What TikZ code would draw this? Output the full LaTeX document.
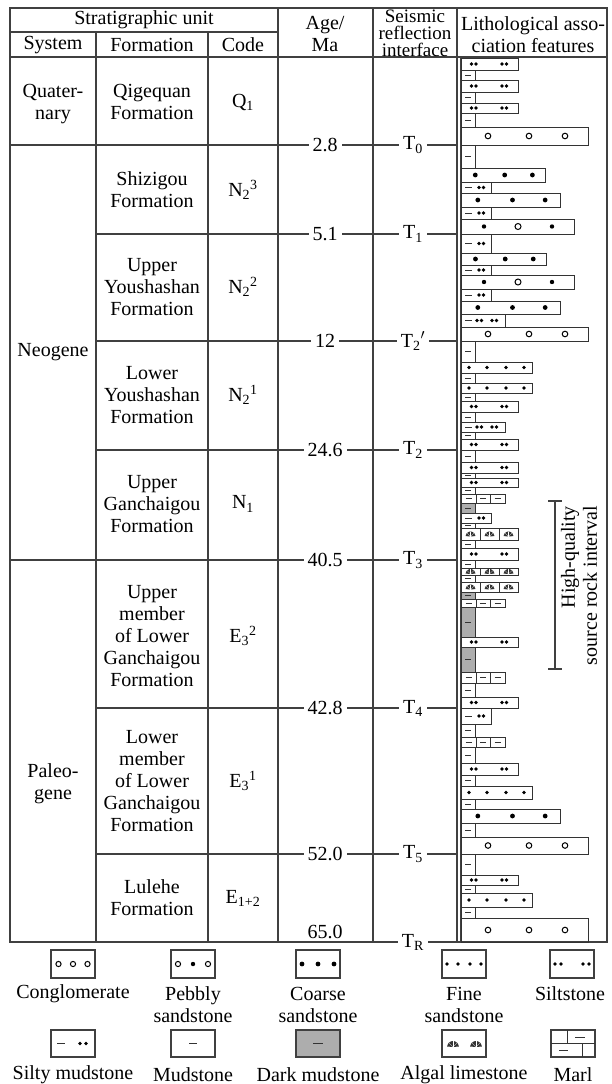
\documentclass[tikz,border=0pt]{standalone}
\usepackage{fontspec}
\setmainfont{Liberation Serif}
\begin{document}
\begin{tikzpicture}[x=1pt,y=-1pt,
    rule/.style={line width=1.2pt,draw=black!75},
    bar/.style={line width=1pt,draw=black!80},
    txt/.style={font=\fontsize{20}{22}\selectfont,align=center,inner sep=0pt},
    tick/.style={txt,fill=white,inner xsep=4pt,inner ysep=1pt},
    peb/.style={draw=black,line width=1pt,fill=white},
    darkmud/.style={bar,fill=black!32},
    algal/.pic={\fill[black!80] (0,0) -- (175:5pt) -- (140:5pt) -- (110:5pt) -- (90:5pt)
            -- (70:5pt) -- (40:5pt) -- (5:5pt) -- cycle;
        \foreach \a in {45,90,135} \draw[white,line width=0.3pt] (0,0) -- (\a:5pt);}]

\fill[white] (0,0) rectangle (611,1084);
\useasboundingbox (0,0) rectangle (611,1084);

% ===== Frame of the table =====
\draw[rule] (10,8) rectangle (607,942);
\draw[rule] (10,32) -- (278,32);
\draw[rule] (10,57) -- (607,57);
\foreach \x in {278,373,457} \draw[rule] (\x,8) -- (\x,942);
\foreach \x in {96,208} \draw[rule] (\x,32) -- (\x,942);
\draw[rule] (461,57) -- (461,942);

% ===== Boundaries =====
\foreach \y/\xs in {145/10,234/96,341/96,450/96,560/10,708/96,854/96}
    \draw[rule] (\xs,\y) -- (457,\y);

% ===== Header =====
\node[txt] (hStrat) at (144,20) {Stratigraphic unit};
\node[txt] (hSystem) at (53,45) {System};
\node[txt] (hForm) at (152,45) {Formation};
\node[txt] (hCode) at (243,45) {Code};
\node[txt] (hAge) at (325,34) {Age/\\Ma};
\node[txt,font=\fontsize{19}{17}\selectfont] (hSeis) at (415,33) {Seismic\\reflection\\interface};
\node[txt] (hLith) at (533,35) {Lithological asso-\\ciation features};

% ===== Systems =====
\node[txt] (sysQ) at (53,104) {Quater-\\nary};
\node[txt] (sysN) at (53,352) {Neogene};
\node[txt] (sysE) at (53,784) {Paleo-\\gene};

% ===== Formations and codes =====
\foreach \y/\f/\c [count=\i] in {
    102/{Qigequan\\Formation}/{Q\textsubscript{1}},
    190/{Shizigou\\Formation}/{N\textsubscript{2}\textsuperscript{3}},
    287/{Upper\\Youshashan\\Formation}/{N\textsubscript{2}\textsuperscript{2}},
    395/{Lower\\Youshashan\\Formation}/{N\textsubscript{2}\textsuperscript{1}},
    504/{Upper\\Ganchaigou\\Formation}/{N\textsubscript{1}},
    636/{Upper\\member\\of Lower\\Ganchaigou\\Formation}/{E\textsubscript{3}\textsuperscript{2}},
    781/{Lower\\member\\of Lower\\Ganchaigou\\Formation}/{E\textsubscript{3}\textsuperscript{1}},
    898/{Lulehe\\Formation}/{E\textsubscript{1+2}}} {
    \node[txt] (form\i) at (152,\y) {\f};
    \node[txt] (code\i) at (243,\y) {\c};
}

% ===== Ages and seismic interfaces =====
\foreach \y/\a/\s [count=\i] in {145/2.8/{T\textsubscript{0}},234/5.1/{T\textsubscript{1}},
    341/12/{T\textsubscript{2}$'$},450/24.6/{T\textsubscript{2}},560/40.5/{T\textsubscript{3}},
    708/42.8/{T\textsubscript{4}},854/52.0/{T\textsubscript{5}}} {
    \node[tick] (age\i) at (325,\y) {\a};
    \node[tick] (sei\i) at (413,\y) {\s};
}
\node[txt] (age8) at (325,932) {65.0};
\node[tick] (sei8) at (413,942) {T\textsubscript{R}};

% ===== Lithology: siltstone =====
\foreach \t/\b in {58/70,80/92,103/113,401/412,439/450,462/473,478/487,548/560,637/647,697/708,763/775,875/885} {
    \draw[bar] (461,\t) rectangle (518,\b);
    \foreach \x in {471.5,476,502,506.5} \fill ({\x},{(\t+\b)/2}) circle (1.8pt);
}

% ===== Lithology: mudstone =====
\foreach \t/\b in {70/80,92/103,113/127,145/168,341/362,373/383,393/401,412/422,432/439,450/462,
    473/478,487/494,523/528,540/548,560/568,575/582,683/697,724/737,747/763,775/786,799/809,
    823/837,854/875,885/893,907/918} {
    \draw[bar] (461,\t) rectangle (475,\b);
    \draw[bar] (465,{(\t+\b)/2}) -- (471,{(\t+\b)/2});
}

% ===== Lithology: dark mudstone =====
\foreach \t/\b in {503/513,592/599,607/637,647/672} {
    \draw[darkmud] (461,\t) rectangle (475,\b);
    \draw[bar] (465,{(\t+\b)/2}) -- (471,{(\t+\b)/2});
}

% ===== Lithology: conglomerate =====
\foreach \t/\b in {127/145,327/341,837/854,918/942} {
    \draw[bar] (461,\t) rectangle (588,\b);
    \foreach \x in {488,529,565} \draw[peb] ({\x},{(\t+\b)/2}) circle (2.8pt);
}

% ===== Lithology: coarse sandstone =====
\foreach \t/\b/\r in {168/182/545,193/207/560,253/265/546,301/314/560,809/823/560} {
    \draw[bar] (461,\t) rectangle (\r,\b);
    \foreach \f in {0.17,0.52,0.85} \fill ({461+\f*(\r-461)},{(\t+\b)/2}) circle (2.4pt);
}

% ===== Lithology: pebbly sandstone =====
\foreach \t/\b in {219/234,275/289} {
    \draw[bar] (461,\t) rectangle (574,\b);
    \foreach \x in {484,552} \fill ({\x},{(\t+\b)/2}) circle (2.2pt);
    \draw[peb] (518,{(\t+\b)/2}) circle (3pt);
}

% ===== Lithology: fine sandstone =====
\foreach \t/\b in {362/373,383/393,786/799,893/907} {
    \draw[bar] (461,\t) rectangle (532,\b);
    \foreach \x in {469,487,506,524} \fill ({\x},{(\t+\b)/2}) circle (1.8pt);
}

% ===== Lithology: silty mudstone =====
\foreach \t/\b in {182/193,207/219,234/253,265/275,289/301,513/523,708/724} {
    \draw[bar] (461,\t) rectangle (491,\b);
    \draw[bar] (465,{(\t+\b)/2}) -- (472,{(\t+\b)/2});
    \foreach \x in {479,483.5} \fill ({\x},{(\t+\b)/2}) circle (1.8pt);
}
\foreach \t/\b in {314/327,422/432} {
    \draw[bar] (461,\t) rectangle (505,\b);
    \draw[bar] (465,{(\t+\b)/2}) -- (472,{(\t+\b)/2});
    \foreach \x in {477,481.5,492,496.5} \fill ({\x},{(\t+\b)/2}) circle (1.8pt);
}

% ===== Lithology: marl =====
\foreach \t/\b in {494/503,599/607,672/683,737/747} {
    \draw[bar] (461,\t) rectangle (505,\b);
    \foreach \x in {476,490} \draw[bar] (\x,\t) -- (\x,\b);
    \foreach \x in {468.5,483,497.5} \draw[bar] ({\x-3},{(\t+\b)/2}) -- ({\x+3},{(\t+\b)/2});
}

% ===== Lithology: algal limestone =====
\foreach \t/\b in {528/540,568/575,582/592} {
    \draw[bar] (461,\t) rectangle (518,\b);
    \foreach \x in {480,499} \draw[bar] (\x,\t) -- (\x,\b);
    \foreach \x in {470.5,489.5,508.5} \pic at ({\x},{(\t+\b)/2+2.5}) {algal};
}

% ===== Source rock interval =====
\coordinate (srTop) at (555,501);
\coordinate (srBot) at (555,669);
\draw[rule] (srTop) -- (srBot);
\draw[rule] ([xshift=-7pt]srTop) -- ([xshift=7pt]srTop);
\draw[rule] ([xshift=-7pt]srBot) -- ([xshift=7pt]srBot);
\node[txt,rotate=90,anchor=east,align=right] (srText) at (579,506) {High-quality\\source rock interval};

% ===== Legend, row 1 =====
\foreach \x in {73,193,318,464,572} \draw[rule] ({\x-22},950) rectangle ({\x+22},978);
\foreach \d in {-14.5,0,14.5} \draw[peb] ({73+\d},964) circle (2.6pt);
\foreach \d in {-15,15} \draw[peb] ({193+\d},964) circle (2.6pt);
\fill (193,964) circle (2.2pt);
\foreach \d in {-16,0,16} \fill ({318+\d},964) circle (2.4pt);
\foreach \d in {-17,-6,6,17} \fill ({464+\d},964) circle (1.8pt);
\foreach \d in {-17,-11,11,17} \fill ({572+\d},964) circle (1.8pt);
\node[txt] (lgConglo) at (73,994) {Conglomerate};
\node[txt] (lgPebbly) at (193,1004.5) {Pebbly\\sandstone};
\node[txt] (lgCoarse) at (318,1004.5) {Coarse\\sandstone};
\node[txt] (lgFine) at (464,1004.5) {Fine\\sandstone};
\node[txt] (lgSilt) at (570,994) {Siltstone};

% ===== Legend, row 2 =====
\draw[rule] (51,1030) rectangle (95,1057);
\draw[rule] (171,1030) rectangle (215,1057);
\draw[rule,fill=black!32] (296,1030) rectangle (340,1057);
\draw[rule] (442,1030) rectangle (486,1057);
\draw[rule] (551,1030) rectangle (595,1057);
\draw[bar] (57,1043.5) -- (65,1043.5);
\foreach \x in {80,86} \fill (\x,1043.5) circle (1.8pt);
\draw[bar] (189,1043.5) -- (197,1043.5);
\draw[bar] (313,1043.5) -- (323,1043.5);
\foreach \x in {453,476} \pic[scale=1.2] at (\x,1047) {algal};
\draw[bar] (551,1043.5) -- (595,1043.5);
\draw[bar] (567.5,1030) -- (567.5,1043.5);
\draw[bar] (575,1037) -- (585,1037);
\draw[bar] (582,1043.5) -- (582,1057);
\draw[bar] (559,1050) -- (568,1050);
\node[txt] (lgSiltyMud) at (73,1075) {Silty mudstone};
\node[txt] (lgMud) at (193,1075) {Mudstone};
\node[txt] (lgDarkMud) at (318,1075) {Dark mudstone};
\node[txt] (lgAlgal) at (464,1075) {Algal limestone};
\node[txt] (lgMarl) at (573,1075) {Marl};

\end{tikzpicture}
\end{document}
